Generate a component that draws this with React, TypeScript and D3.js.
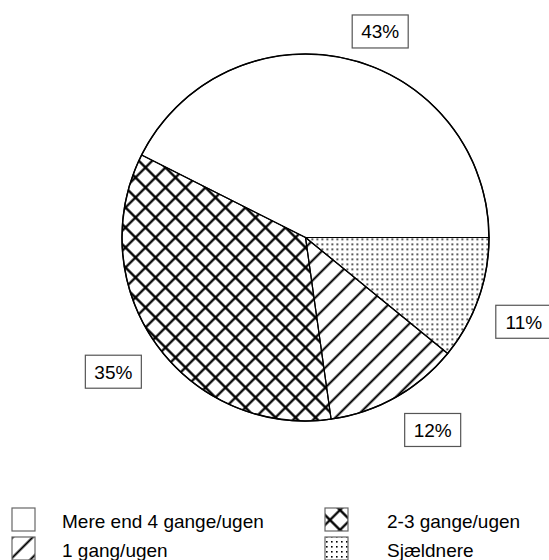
import React from "react";
import * as d3 from "d3";

const categories = ["Mere end 4 gange/ugen", "2-3 gange/ugen", "1 gang/ugen", "Sjældnere"];
const values = [43, 35, 12, 11];
const valueLabels = ["43%", "35%", "12%", "11%"];
const fills = ["none", "cross", "diag", "dots"];

const W = 549;
const H = 560;
const cx = 305.5;
const cy = 237.5;
const r = 183.5;
const labelR = 202;
const boxW = 56;
const boxH = 33;
const FONT = "'Liberation Sans', Arial, sans-serif";

function fillFor(k: string) {
  return k === "none" ? "#fff" : `url(#p-${k})`;
}

export default function App() {
  const pie = d3
    .pie<number>()
    .sort(null)
    .startAngle(Math.PI / 2)
    .endAngle(Math.PI / 2 - 2 * Math.PI);
  const arcs = pie(values);
  const arc = d3.arc<d3.PieArcDatum<number>>().innerRadius(0).outerRadius(r);

  const legendX = d3.scaleOrdinal<number, number>().domain([0, 1]).range([12, 325]);
  const legendY = d3.scaleOrdinal<number, number>().domain([0, 1]).range([508, 537]);

  return (
    <svg
      width={W}
      height={H}
      style={{ position: "absolute", left: 0, top: 0, background: "#fff" }}
      fontFamily={FONT}
    >
      <defs>
        <pattern id="p-cross" patternUnits="userSpaceOnUse" width={14.142} height={14.142} patternTransform="rotate(45)">
          <path d="M0,7.071 H14.142 M7.071,0 V14.142" stroke="#000" strokeWidth={2.2} />
        </pattern>
        <pattern id="p-diag" patternUnits="userSpaceOnUse" width={14.142} height={14.142} patternTransform="rotate(-45)">
          <path d="M0,7.071 H14.142" stroke="#000" strokeWidth={2} />
        </pattern>
        <pattern id="p-dots" patternUnits="userSpaceOnUse" width={5} height={5}>
          <rect x={1} y={1} width={1.6} height={1.6} fill="#000" />
        </pattern>
      </defs>
      <g transform={`translate(${cx},${cy})`}>
        {arcs.map((a, i) => (
          <path key={i} d={arc(a) || ""} fill={fillFor(fills[i])} stroke="#000" strokeWidth={1.2} strokeLinejoin="round" />
        ))}
        <circle r={r} fill="none" stroke="#000" strokeWidth={1.5} />
      </g>
      {arcs.map((a, i) => {
        const mid = (a.startAngle + a.endAngle) / 2;
        const s = Math.sin(mid);
        const c = Math.cos(mid);
        const px = cx + labelR * s;
        const py = cy - labelR * c;
        const bx = s >= 0 ? px : px - boxW;
        const by = c >= 0 ? py - boxH + 7 : py;
        return (
          <g key={i}>
            <rect x={bx} y={by} width={boxW} height={boxH} fill="#fff" stroke="#555" strokeWidth={1.2} />
            <text x={bx + boxW / 2} y={by + boxH / 2 + 7} textAnchor="middle" fontSize={19} fill="#000">
              {valueLabels[i]}
            </text>
          </g>
        );
      })}
      {categories.map((name, i) => {
        const x = legendX(i % 2);
        const y = legendY(Math.floor(i / 2));
        return (
          <g key={name}>
            <rect x={x} y={y} width={23} height={23} fill={fillFor(fills[i])} stroke="#666" strokeWidth={1.2} />
            <text x={x + (i % 2 === 0 ? 50 : 62)} y={y + 20} fontSize={19} fill="#000">
              {name}
            </text>
          </g>
        );
      })}
    </svg>
  );
}
